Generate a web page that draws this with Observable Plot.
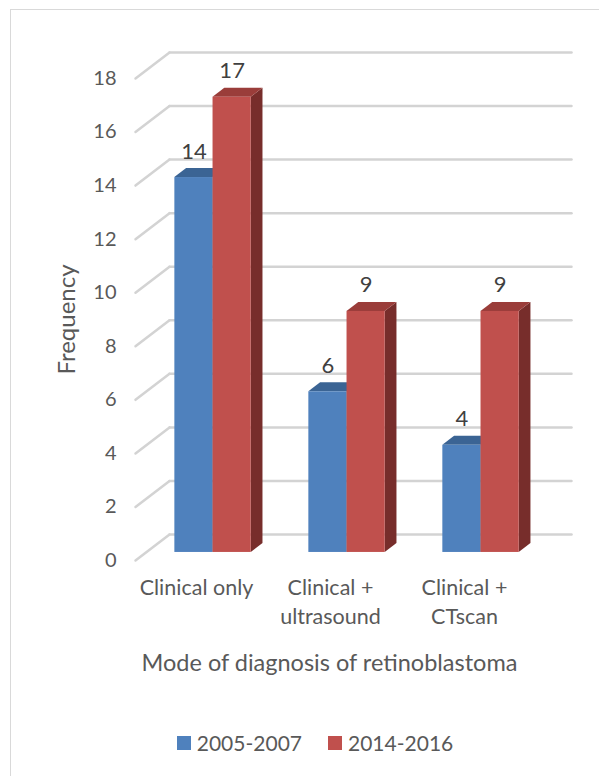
<!DOCTYPE html>
<html>
<head>
<meta charset="utf-8">
<script src="https://cdn.jsdelivr.net/npm/d3@7"></script>
<script src="https://cdn.jsdelivr.net/npm/@observablehq/plot@0.6"></script>
<style>
  html, body { margin: 0; padding: 0; background: #fff; }
  body { width: 599px; height: 776px; overflow: hidden; position: relative; font-family: Lato, "Open Sans", sans-serif; }
  #frame { position: absolute; left: 10px; top: 9px; width: 610px; height: 800px; border: 1px solid #d9d9d9; box-sizing: border-box; }
  #plot { position: absolute; left: 0; top: 0; }
  #legend { position: absolute; left: 10px; width: 610px; top: 730px; display: flex; justify-content: center; gap: 26px; font-size: 21px; color: #595959; }
  #legend .item { display: flex; align-items: center; gap: 6px; }
  #legend .swatch { width: 14px; height: 14px; display: inline-block; }
</style>
</head>
<body>
<div id="frame"></div>
<div id="plot"></div>
<div id="legend"></div>
<script>
// Categories, series and values
const categories = ["Clinical only", "Clinical + ultrasound", "Clinical + CTscan"];
const categoryLabels = ["Clinical only", "Clinical +\nultrasound", "Clinical +\nCTscan"];
const seriesNames = ["2005-2007", "2014-2016"];
const values2005 = [14, 6, 4];
const values2014 = [17, 9, 9];
const yTicks = [0, 2, 4, 6, 8, 10, 12, 14, 16, 18];

// Face colours for each series: front, top, side
const faceColors = [
  {front: "#4F81BD", top: "#3B6494", side: "#2F4F75"},
  {front: "#C0504D", top: "#9A3D3A", side: "#772D2B"}
];

// 3D projection: depth of the floor expressed in data units
const DX = 0.254;   // category units per full depth
const DY = 0.97;    // frequency units per full depth
const BAR_W = 0.285;
const Z_FRONT = 0.31, Z_BACK = 0.655;

const seriesValues = [values2005, values2014];
const rows = [];
seriesValues.forEach((vals, s) => {
  vals.forEach((v, i) => {
    const x1 = i + 0.5 - BAR_W + s * BAR_W;
    rows.push({category: categories[i], series: seriesNames[s], s, i, value: v, x1, x2: x1 + BAR_W, key: `${s}-${i}`});
  });
});

// Face geometry in data coordinates
const fronts = rows.map(r => ({...r,
  fx1: r.x1 + Z_FRONT * DX, fx2: r.x2 + Z_FRONT * DX,
  fy1: Z_FRONT * DY, fy2: r.value + Z_FRONT * DY}));
const tops = rows.flatMap(r => [Z_FRONT, Z_BACK].map(z => ({key: r.key, s: r.s,
  y: r.value + z * DY, x1: r.x1 + z * DX, x2: r.x2 + z * DX})));
const sides = rows.flatMap(r => [Z_FRONT, Z_BACK].map(z => ({key: r.key, s: r.s,
  x: r.x2 + z * DX, y1: z * DY, y2: r.value + z * DY})));

const nCat = categories.length;
const gridColor = "#d3d3d3";
const font = "Lato, 'Open Sans', sans-serif";

const chart = Plot.plot({
  width: 599,
  height: 700,
  marginLeft: 135,
  marginRight: 28,
  marginTop: 52,
  marginBottom: 140,
  style: {fontFamily: font, background: "transparent", overflow: "visible"},
  x: {domain: [0, nCat + DX], axis: null},
  y: {domain: [0, yTicks[yTicks.length - 1] + DY], axis: null},
  marks: [
    // side-wall and back-wall gridlines
    Plot.link(yTicks, {x1: 0, y1: d => d, x2: DX, y2: d => d + DY, stroke: gridColor, strokeWidth: 2.5, strokeLinecap: "round"}),
    Plot.link(yTicks, {x1: DX, y1: d => d + DY, x2: nCat + DX, y2: d => d + DY, stroke: gridColor, strokeWidth: 2.5, strokeLinecap: "round"}),
    // bar faces
    Plot.areaY(sides, {x: "x", y1: "y1", y2: "y2", z: "key", fill: d => faceColors[d.s].side, curve: "linear"}),
    Plot.areaX(tops, {y: "y", x1: "x1", x2: "x2", z: "key", fill: d => faceColors[d.s].top, curve: "linear"}),
    Plot.rect(fronts, {x1: "fx1", x2: "fx2", y1: "fy1", y2: "fy2", fill: d => faceColors[d.s].front}),
    // value labels
    Plot.text(fronts, {x: d => (d.fx1 + d.fx2) / 2, y: "fy2", dy: -26, text: d => String(d.value), fontSize: 22, fill: "#404040"}),
    // y axis
    Plot.axisY(yTicks, {anchor: "left", tickSize: 0, tickPadding: 19, fontSize: 20, color: "#595959", label: null}),
    Plot.text(["Frequency"], {x: 0, y: (yTicks[0] + yTicks[yTicks.length - 1]) / 2, dx: -68, rotate: -90, fontSize: 24, fill: "#595959"}),
    // category labels and axis title
    Plot.text(categoryLabels, {x: (d, i) => i + 0.5, y: 0, dy: 14, dx: -6, lineAnchor: "top", lineHeight: 1.35, fontSize: 21.5, fill: "#595959"}),
    Plot.text(["Mode of diagnosis of retinoblastoma"], {x: nCat / 2, y: 0, dy: 103, dx: -7, fontSize: 23.5, fill: "#595959"})
  ]
});
document.getElementById("plot").appendChild(chart);

// Legend
const legend = document.getElementById("legend");
seriesNames.forEach((name, s) => {
  const item = document.createElement("div");
  item.className = "item";
  const sw = document.createElement("span");
  sw.className = "swatch";
  sw.style.background = faceColors[s].front;
  const label = document.createElement("span");
  label.textContent = name;
  item.append(sw, label);
  legend.appendChild(item);
});
</script>
</body>
</html>
